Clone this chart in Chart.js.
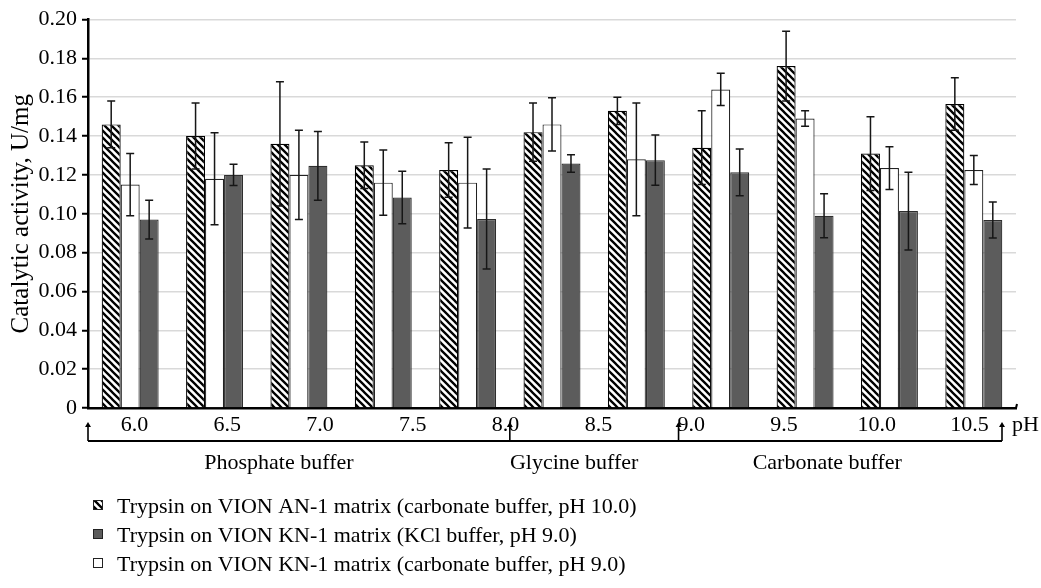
<!DOCTYPE html>
<html><head><meta charset="utf-8">
<script src="https://cdn.jsdelivr.net/npm/chart.js@4.4.0/dist/chart.umd.min.js"></script>
<style>html,body{margin:0;padding:0;background:#fff;}canvas{display:block;}</style>
</head><body>
<canvas id="c" width="1041" height="588"></canvas>
<script>
// ---- data ----
const groupLabels = ['6.0','6.5','7.0','7.5','8.0','8.5','9.0','9.0','9.5','10.0','10.5'];
const phLabels = ['6.0','6.5','7.0','7.5','8.0','8.5','9.0','9.5','10.0','10.5'];
const seriesNames = [
  'Trypsin on VION AN-1 matrix (carbonate buffer, pH 10.0)',
  'Trypsin on VION KN-1 matrix (carbonate buffer, pH 9.0)',
  'Trypsin on VION KN-1 matrix (KCl buffer, pH 9.0)'
];
const anCarbonate    = [0.146, 0.140, 0.136, 0.125, 0.1225, 0.142, 0.153, 0.134, 0.176, 0.131, 0.1565];
const anCarbonateErr = [0.012, 0.017, 0.032, 0.012, 0.014, 0.015, 0.007, 0.019, 0.018, 0.019, 0.0135];
const knCarbonate    = [0.115, 0.118, 0.120, 0.116, 0.116, 0.146, 0.128, 0.164, 0.149, 0.1235, 0.1225];
const knCarbonateErr = [0.016, 0.0237, 0.023, 0.0168, 0.0234, 0.0137, 0.029, 0.0083, 0.004, 0.011, 0.0075];
const knKCl          = [0.097, 0.120, 0.1247, 0.1084, 0.0973, 0.1259, 0.1276, 0.1213, 0.099, 0.1014, 0.0968];
const knKClErr       = [0.010, 0.0055, 0.0177, 0.0135, 0.0257, 0.0045, 0.0129, 0.012, 0.0113, 0.020, 0.0093];
const bufferNames  = ['Phosphate buffer','Glycine buffer','Carbonate buffer'];
const bufferStarts = [0, 5, 7];
const legendOrder  = [0, 2, 1];
const yTitle = 'Catalytic activity, U/mg';
const xUnit = 'pH';

// ---- styles ----
const FONT = "'Liberation Serif','Times New Roman',serif";
function hatchPattern() {
  const s = 7, c = document.createElement('canvas');
  c.width = s; c.height = s;
  const g = c.getContext('2d');
  g.fillStyle = '#fff'; g.fillRect(0, 0, s, s);
  g.strokeStyle = '#000'; g.lineWidth = 2.3; g.beginPath();
  for (let k = -1; k <= 1; k++) { g.moveTo(-1, -1 + k * s); g.lineTo(s + 1, s + 1 + k * s); }
  g.stroke();
  return document.getElementById('c').getContext('2d').createPattern(c, 'repeat');
}
const hatch = hatchPattern();
const fills = [hatch, '#ffffff', '#5c5c5c'];
const borders = ['#000000', '#222222', '#2e2e2e'];

const errorBars = {
  id: 'errorBars',
  afterDatasetsDraw(chart) {
    const ctx = chart.ctx, y = chart.scales.y;
    chart.data.datasets.forEach((ds, i) => {
      chart.getDatasetMeta(i).data.forEach((bar, j) => {
        const v = ds.data[j], e = ds.errors[j];
        const x = bar.x, yt = y.getPixelForValue(v + e), yb = y.getPixelForValue(v - e);
        ctx.save();
        ctx.strokeStyle = '#161616'; ctx.lineWidth = 1.5;
        ctx.beginPath();
        ctx.moveTo(x, yt); ctx.lineTo(x, yb);
        ctx.moveTo(x - 4, yt); ctx.lineTo(x + 4, yt);
        ctx.moveTo(x - 4, yb); ctx.lineTo(x + 4, yb);
        ctx.stroke();
        ctx.restore();
      });
    });
  }
};

const decorations = {
  id: 'decorations',
  afterDraw(chart) {
    const ctx = chart.ctx, area = chart.chartArea;
    const cw = (area.right - area.left) / groupLabels.length;
    const bound = i => area.left + cw * i;
    const lineY = 441, arrowTop = 422;
    ctx.save();
    ctx.strokeStyle = '#000'; ctx.fillStyle = '#000'; ctx.lineWidth = 2;
    const ends = bufferStarts.map(bound).concat([bound(groupLabels.length) - 14]);
    ctx.beginPath();
    ctx.moveTo(ends[0], lineY); ctx.lineTo(ends[ends.length - 1], lineY);
    ctx.stroke();
    ctx.lineWidth = 1.6;
    ends.forEach(x => {
      ctx.beginPath(); ctx.moveTo(x, lineY); ctx.lineTo(x, arrowTop + 3); ctx.stroke();
      ctx.beginPath(); ctx.moveTo(x - 3, arrowTop + 5); ctx.lineTo(x, arrowTop); ctx.lineTo(x + 3, arrowTop + 5); ctx.closePath(); ctx.fill();
    });
    // buffer names
    ctx.font = '22px ' + FONT; ctx.textAlign = 'center'; ctx.textBaseline = 'middle';
    bufferNames.forEach((n, i) => {
      const cx = (ends[i] + (i + 1 < bufferStarts.length ? ends[i + 1] : bound(groupLabels.length))) / 2 - 20;
      ctx.fillText(n, cx, 463);
    });
    // pH unit
    ctx.textAlign = 'left';
    ctx.fillText(xUnit, 1012, 425);
    // axis end hook
    ctx.lineWidth = 2;
    ctx.beginPath(); ctx.moveTo(area.right, area.bottom); ctx.lineTo(area.right + 1, area.bottom - 4); ctx.stroke();
    // legend
    legendOrder.forEach((di, r) => {
      const by = 513 + r * 29, my = by - 8;
      ctx.fillStyle = fills[di];
      ctx.fillRect(93, my - 5, 10, 10);
      ctx.strokeStyle = '#222'; ctx.lineWidth = 1;
      ctx.strokeRect(93.5, my - 4.5, 9, 9);
      ctx.fillStyle = '#000'; ctx.textBaseline = 'alphabetic';
      ctx.fillText(chart.data.datasets[di].label, 117, by);
    });
    ctx.restore();
  }
};

const errs = [anCarbonateErr, knCarbonateErr, knKClErr];
const vals = [anCarbonate, knCarbonate, knKCl];
new Chart(document.getElementById('c'), {
  type: 'bar',
  data: {
    labels: groupLabels,
    datasets: vals.map((v, i) => ({
      label: seriesNames[i], data: v, errors: errs[i],
      backgroundColor: fills[i], borderColor: borders[i], borderWidth: 1.2,
      xAxisID: 'x', yAxisID: 'y'
    }))
  },
  options: {
    responsive: false, animation: false, devicePixelRatio: 1,
    categoryPercentage: 0.675, barPercentage: 1.0,
    layout: { padding: { top: 19.5, right: 25, left: 0, bottom: 0 } },
    plugins: { legend: { display: false }, tooltip: { enabled: false } },
    scales: {
      x: {
        position: 'bottom', weight: 0,
        ticks: { display: false },
        grid: { display: false, drawTicks: false },
        border: { display: true, color: '#000', width: 2.5 },
        afterFit: s => { s.height = 0; }
      },
      xLabels: {
        type: 'category', labels: phLabels, position: 'bottom', weight: 1, offset: true,
        grid: { display: false, drawTicks: false },
        border: { display: false },
        ticks: { color: '#000', font: { family: FONT, size: 22 }, padding: 4, maxRotation: 0, autoSkip: false },
        afterFit: s => { s.height = 180; }
      },
      y: {
        min: 0, max: 0.2,
        ticks: { stepSize: 0.02, color: '#000', font: { family: FONT, size: 22 }, padding: 5,
                 callback: v => (Math.abs(v) < 1e-9 ? '0' : v.toFixed(2)) },
        grid: { color: '#d9d9d9', lineWidth: 1.5, tickColor: '#000', tickLength: 6, tickWidth: 2 },
        border: { color: '#000', width: 2.5 },
        title: { display: true, text: yTitle, color: '#000', font: { family: FONT, size: 25 }, padding: { top: 6, bottom: 0 } },
        afterFit: s => { s.width = 88; }
      }
    }
  },
  plugins: [errorBars, decorations]
});
</script>
</body></html>
